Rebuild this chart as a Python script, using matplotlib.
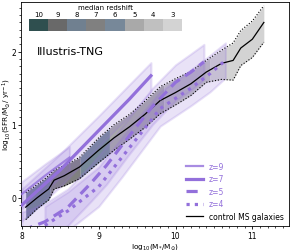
import numpy as np
import matplotlib
matplotlib.use("Agg")
import matplotlib.pyplot as plt
from matplotlib.ticker import MultipleLocator
from matplotlib.colors import ListedColormap

# control MS galaxies: median and 16-84 percentile band
ms_mass = [8.05, 8.2, 8.35, 8.42, 8.55, 8.75, 9.0, 9.2, 9.4, 9.6, 9.8, 10.0, 10.2, 10.4, 10.6, 10.75, 10.85, 11.0, 11.15]
ms_med = [-0.13, 0.0, 0.12, 0.24, 0.30, 0.42, 0.65, 0.82, 0.97, 1.14, 1.33, 1.44, 1.56, 1.72, 1.84, 1.88, 2.05, 2.17, 2.40]
ms_hi = [0.07, 0.18, 0.30, 0.38, 0.44, 0.55, 0.82, 1.0, 1.14, 1.32, 1.52, 1.63, 1.73, 1.88, 2.02, 2.12, 2.29, 2.42, 2.63]
ms_lo = [-0.30, -0.15, -0.03, 0.12, 0.16, 0.26, 0.48, 0.65, 0.80, 0.96, 1.15, 1.27, 1.40, 1.58, 1.62, 1.61, 1.81, 1.92, 2.13]

# mass ranges of the band coloured by median redshift
seg_edges = [8.05, 8.37, 8.76, 9.14, 9.85, 10.45, 11.15]
seg_z = [8, 7, 6, 5, 4, 3]

cb_z = [10, 9, 8, 7, 6, 5, 4, 3]
cb_colors = ['darkslategray', 'dimgray', 'slategray', 'gray', 'lightslategray', 'darkgray', 'silver', 'lightgray']

# high-z samples
z9_mass = [8.0, 8.3, 8.62]
z9_med = [0.05, 0.30, 0.55]
z9_hi = [0.22, 0.46, 0.70]
z9_lo = [-0.15, 0.10, 0.38]

z7_mass = [8.0, 8.5, 9.0, 9.4, 9.68]
z7_med = [-0.10, 0.38, 0.92, 1.35, 1.67]
z7_hi = [0.12, 0.60, 1.12, 1.55, 1.85]
z7_lo = [-0.32, 0.15, 0.70, 1.12, 1.45]

z5_mass = [8.0, 8.3, 8.6, 8.9, 9.1, 9.4, 9.7, 10.0, 10.2, 10.37]
z5_med = [-0.45, -0.33, -0.13, 0.20, 0.44, 0.85, 1.25, 1.58, 1.72, 1.86]
z5_hi = [-0.2, -0.08, 0.12, 0.45, 0.70, 1.10, 1.50, 1.82, 1.97, 2.10]
z5_lo = [-0.7, -0.58, -0.38, -0.05, 0.18, 0.60, 1.00, 1.33, 1.47, 1.62]

z4_mass = [8.3, 8.6, 9.0, 9.3, 9.6, 9.8, 10.0, 10.2, 10.45, 10.65]
z4_med = [-0.38, -0.18, 0.15, 0.55, 0.95, 1.22, 1.36, 1.50, 1.70, 1.88]
z4_hi = [-0.12, 0.08, 0.42, 0.82, 1.20, 1.45, 1.60, 1.75, 1.95, 2.12]
z4_lo = [-0.65, -0.45, -0.12, 0.28, 0.70, 0.98, 1.12, 1.26, 1.45, 1.64]

purple = 'mediumpurple'
zcol = dict(zip(cb_z, cb_colors))

fig = plt.figure(figsize=(2.93, 2.51), dpi=100)
ax = fig.add_axes([0.072, 0.095, 0.915, 0.893])

# control band, coloured per redshift segment
m = np.array(ms_mass)
for i, z in enumerate(seg_z):
    a, b = seg_edges[i], seg_edges[i + 1]
    xx = np.linspace(a, b, 30)
    ax.fill_between(xx, np.interp(xx, m, ms_lo), np.interp(xx, m, ms_hi),
                    color=zcol[z], lw=0, zorder=1)
ax.plot(ms_mass, ms_hi, color='k', ls=':', lw=0.8, zorder=3)
ax.plot(ms_mass, ms_lo, color='k', ls=':', lw=0.8, zorder=3)
l_ms, = ax.plot(ms_mass, ms_med, color='k', lw=0.9, zorder=4, label='control MS galaxies')

# high-z fills
for mm, lo, hi in [(z9_mass, z9_lo, z9_hi), (z7_mass, z7_lo, z7_hi),
                   (z5_mass, z5_lo, z5_hi), (z4_mass, z4_lo, z4_hi)]:
    ax.fill_between(mm, lo, hi, color=purple, alpha=0.2, lw=1.5, zorder=2)

l9, = ax.plot(z9_mass, z9_med, color=purple, lw=1.6, alpha=0.8, zorder=5, label='z=9')
l7, = ax.plot(z7_mass, z7_med, color=purple, lw=2.3, zorder=5, label='z=7')
l5, = ax.plot(z5_mass, z5_med, color=purple, lw=2.3, ls=(0, (3.5, 2)), zorder=5, label='z=5')
l4, = ax.plot(z4_mass, z4_med, color=purple, lw=2.3, ls=(0, (1, 1.6)), zorder=5, label='z=4')

ax.set_xlim(7.99, 11.48)
ax.set_ylim(-0.39, 2.68)
ax.xaxis.set_major_locator(MultipleLocator(1))
ax.yaxis.set_major_locator(MultipleLocator(1))
ax.xaxis.set_minor_locator(MultipleLocator(0.1))
ax.yaxis.set_minor_locator(MultipleLocator(0.1))
ax.tick_params(which='major', length=2.5, width=0.6, labelsize=5.5, pad=1)
ax.tick_params(which='minor', length=1.3, width=0.5)
for s in ax.spines.values():
    s.set_linewidth(0.6)

ax.set_xlabel(r'log$_{10}$(M$_{*}$/M$_{\odot}$)', fontsize=5.3, va='center')
ax.set_ylabel(r'log$_{10}$(SFR/M$_{\odot}$/ yr$^{-1}$)', fontsize=5.3, va='center')
ax.xaxis.set_label_coords(0.5, -0.088)
ax.yaxis.set_label_coords(-0.055, 0.5)

ax.text(0.06, 0.78, 'Illustris-TNG', transform=ax.transAxes, fontsize=8, va='center')

leg = ax.legend(handles=[l9, l7, l5, l4, l_ms], loc='lower right', frameon=False,
                fontsize=5.5, handlelength=2.2, labelspacing=0.45, borderaxespad=0.3)
for t in leg.get_texts():
    if t.get_text().startswith('z'):
        t.set_color(purple)

# median redshift colour strip
cax = ax.inset_axes([0.03, 0.872, 0.57, 0.05])
cax.imshow(np.arange(len(cb_z))[None, :], cmap=ListedColormap(cb_colors), aspect='auto')
cax.set_yticks([])
cax.set_xticks(range(len(cb_z)))
cax.set_xticklabels([str(z) for z in cb_z], fontsize=5)
cax.xaxis.tick_top()
cax.tick_params(length=0, pad=1.5)
cax.set_title('median redshift', fontsize=5, pad=2)
for s in cax.spines.values():
    s.set_visible(False)

fig.savefig('out.png', dpi=100)
